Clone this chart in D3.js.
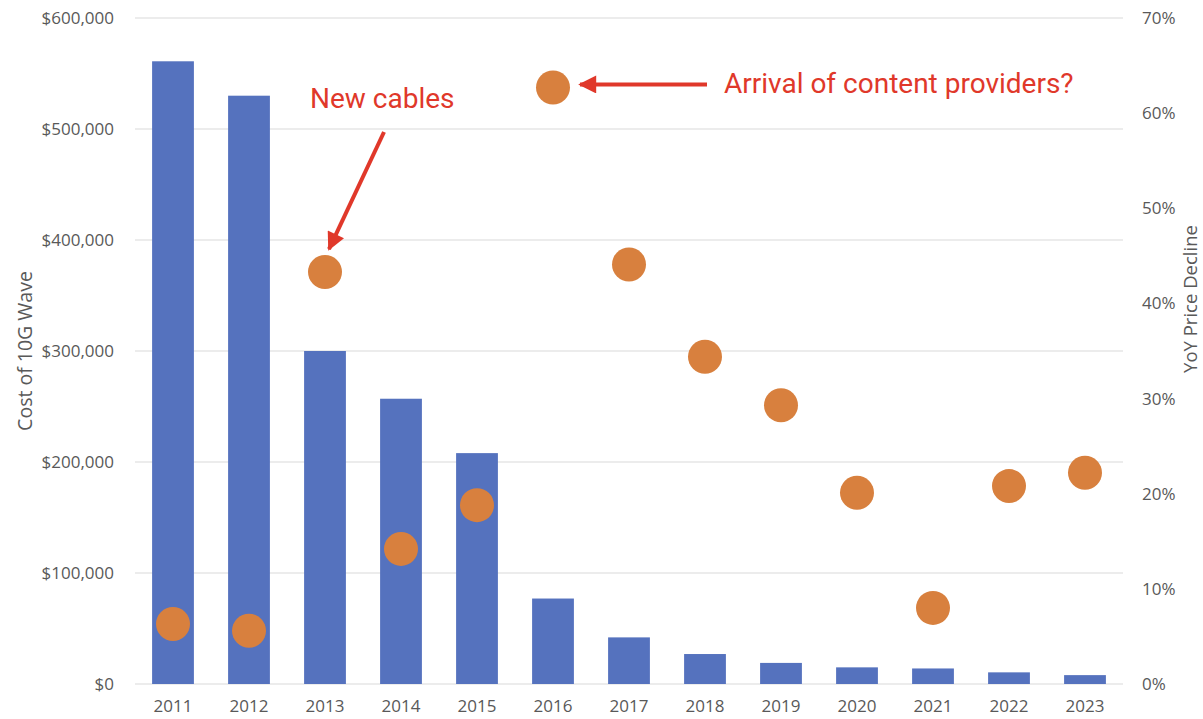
<!DOCTYPE html>
<html>
<head>
<meta charset="utf-8">
<script src="https://cdn.jsdelivr.net/npm/d3@7"></script>
<style>
  body { margin: 0; background: #fff; }
  svg { display: block; }
  .tick text { font-family: "Open Sans", sans-serif; font-size: 17px; fill: #595959; }
</style>
</head>
<body>
<svg width="1203" height="719"></svg>
<script>
// data
var years = ["2011", "2012", "2013", "2014", "2015", "2016", "2017", "2018", "2019", "2020", "2021", "2022", "2023"];
var cost = [561000, 530000, 300000, 257000, 208000, 77000, 42000, 27000, 19000, 15000, 14000, 10500, 8000];
var decline = [6.3, 5.6, 43.3, 14.2, 18.8, 62.7, 44.1, 34.4, 29.3, 20.1, 8.0, 20.8, 22.2];
var costTicks = [0, 100000, 200000, 300000, 400000, 500000, 600000];
var pctTicks = [0, 10, 20, 30, 40, 50, 60, 70];

var svg = d3.select("svg"),
  width = +svg.attr("width"),
  height = +svg.attr("height");

var margin = { top: 18, right: 80, bottom: 35, left: 135 };
var x0 = margin.left, x1 = width - margin.right, y0 = height - margin.bottom, y1 = margin.top;

var x = d3.scaleBand().domain(years).range([x0, x1]).paddingInner(0.45).paddingOuter(0.225);
var y = d3.scaleLinear().domain([0, 600000]).range([y0, y1]);
var y2 = d3.scaleLinear().domain([0, 70]).range([y0, y1]);

// gridlines
svg.append("g")
  .selectAll("line")
  .data(costTicks)
  .enter()
  .append("line")
  .attr("x1", x0)
  .attr("x2", x1)
  .attr("y1", function (d) { return y(d); })
  .attr("y2", function (d) { return y(d); })
  .attr("stroke", "#d9d9d9")
  .attr("stroke-width", 1.2);

// left axis
var fmt = d3.format(",");
svg.append("g")
  .attr("transform", "translate(" + (x0 - 18) + ",0)")
  .call(d3.axisLeft(y).tickValues(costTicks).tickSize(0).tickFormat(function (d) { return "$" + fmt(d); }))
  .call(function (g) { g.select(".domain").remove(); });

// right axis
svg.append("g")
  .attr("transform", "translate(" + (x1 + 16) + ",0)")
  .call(d3.axisRight(y2).tickValues(pctTicks).tickSize(0).tickFormat(function (d) { return d + "%"; }))
  .call(function (g) { g.select(".domain").remove(); });

// bottom axis
svg.append("g")
  .attr("transform", "translate(0," + (y0 + 13) + ")")
  .call(d3.axisBottom(x).tickSize(0))
  .call(function (g) { g.select(".domain").remove(); });

// bars
svg.append("g")
  .selectAll("rect")
  .data(cost)
  .enter()
  .append("rect")
  .attr("x", function (d, i) { return x(years[i]); })
  .attr("width", x.bandwidth())
  .attr("y", function (d) { return y(d); })
  .attr("height", function (d) { return y(0) - y(d); })
  .attr("fill", "#5572be");

// dots
svg.append("g")
  .selectAll("circle")
  .data(decline)
  .enter()
  .append("circle")
  .attr("cx", function (d, i) { return x(years[i]) + x.bandwidth() / 2; })
  .attr("cy", function (d) { return y2(d); })
  .attr("r", 17)
  .attr("fill", "#d8803e");

// axis titles
svg.append("text")
  .attr("transform", "translate(32,351) rotate(-90)")
  .attr("text-anchor", "middle")
  .attr("font-family", "Open Sans, sans-serif")
  .attr("font-size", 19.5)
  .attr("fill", "#595959")
  .text("Cost of 10G Wave");

svg.append("text")
  .attr("transform", "translate(1197,299) rotate(-90)")
  .attr("text-anchor", "middle")
  .attr("font-family", "Open Sans, sans-serif")
  .attr("font-size", 18.5)
  .attr("fill", "#595959")
  .text("YoY Price Decline");

// annotations
var red = "#e0382a";
svg.append("defs").append("marker")
  .attr("id", "head")
  .attr("viewBox", "0 0 10 10")
  .attr("refX", 9)
  .attr("refY", 5)
  .attr("markerWidth", 5)
  .attr("markerHeight", 4.5)
  .attr("markerUnits", "strokeWidth")
  .attr("orient", "auto")
  .append("path")
  .attr("d", "M0,0 L10,5 L0,10 z")
  .attr("fill", red);

function arrow(xa, ya, xb, yb) {
  svg.append("line")
    .attr("x1", xa).attr("y1", ya)
    .attr("x2", xb).attr("y2", yb)
    .attr("stroke", red)
    .attr("stroke-width", 4)
    .attr("marker-end", "url(#head)");
}

var i13 = years.indexOf("2013"), i16 = years.indexOf("2016");
var cx13 = x("2013") + x.bandwidth() / 2, cx16 = x("2016") + x.bandwidth() / 2;
arrow(384, 132, cx13 + 4, y2(decline[i13]) - 23);
arrow(707, y2(decline[i16]) - 3, cx16 + 27, y2(decline[i16]) - 3);

svg.append("text")
  .attr("x", 310)
  .attr("y", 108)
  .attr("font-family", "Roboto, sans-serif")
  .attr("font-size", 28)
  .attr("fill", red)
  .text("New cables");

svg.append("text")
  .attr("x", 724)
  .attr("y", 93)
  .attr("font-family", "Roboto, sans-serif")
  .attr("font-size", 28)
  .attr("fill", red)
  .text("Arrival of content providers?");
</script>
</body>
</html>
